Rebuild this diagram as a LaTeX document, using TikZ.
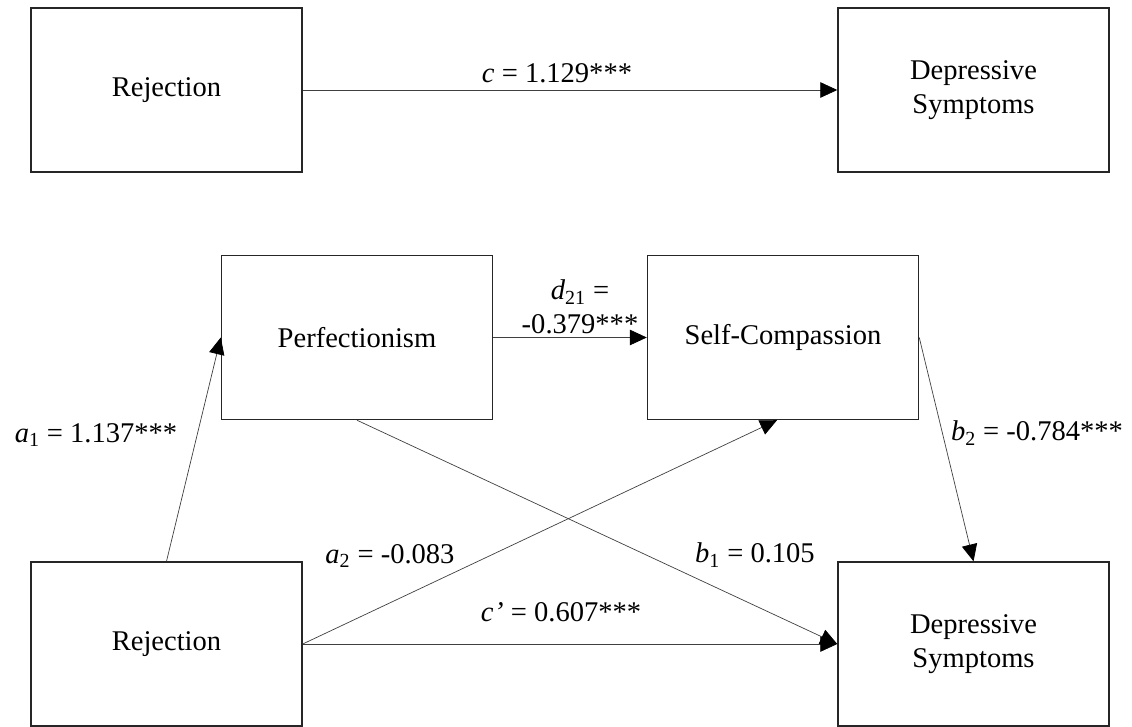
\documentclass[tikz,border=0pt]{standalone}
\usepackage{fontspec}
\setmainfont{Liberation Serif}
\usetikzlibrary{arrows.meta}
\newcommand{\coef}[2]{\textit{#1}\textsubscript{#2}}
\begin{document}
\begin{tikzpicture}
  [x=0.025cm,y=-0.025cm,
   font=\fontsize{20.3}{24}\selectfont,
   box/.style={rectangle,draw=black!85,line width=1pt,minimum width=6.775cm,minimum height=4.1cm,align=center,inner sep=0pt},
   lbl/.style={inner sep=0pt,align=center},
   path/.style={draw=black!75,line width=0.5pt,-{Triangle[length=12pt,width=11pt,color=black]}}]
  \useasboundingbox (0,0) rectangle (1132,727);

  % total effect
  \node[box] (rej1) at (166.5,90) {Rejection};
  \node[box] (dep1) at (973.5,90) {Depressive\\Symptoms};

  % serial mediation
  \node[box] (perf) at (357,337.5) {Perfectionism};
  \node[box] (sc) at (783,337.5) {Self-Compassion};
  \node[box] (rej2) at (166.5,644) {Rejection};
  \node[box] (dep2) at (973.5,644) {Depressive\\Symptoms};

  \foreach \from/\to in {rej1/dep1, rej2/dep2}
  \draw[path] (\from.east) -- (\to.west);

  \draw[path] (rej2.north) -- (perf.west);
  \draw[path] (perf.east) -- (sc.west);
  \draw[path] (rej2.east) -- ([xshift=-0.15cm]sc.south);
  \draw[path] (perf.south) -- (dep2.west);
  \draw[path] (sc.east) -- (dep2.north);

  % coefficients
  \node[lbl] (lc) at (557,73) {\textit{c} = 1.129***};
  \node[lbl] (ld) at (580,307) {\coef{d}{21} =\\-0.379***};
  \node[lbl] (la1) at (96,435) {\coef{a}{1} = 1.137***};
  \node[lbl] (la2) at (390,556) {\coef{a}{2} = -0.083};
  \node[lbl] (lb1) at (755,555) {\coef{b}{1} = 0.105};
  \node[lbl] (lcp) at (561,612) {\textit{c\kern0.5pt'} = 0.607***};
  \node[lbl] (lb2) at (1037,433) {\coef{b}{2} = -0.784***};
\end{tikzpicture}
\end{document}
